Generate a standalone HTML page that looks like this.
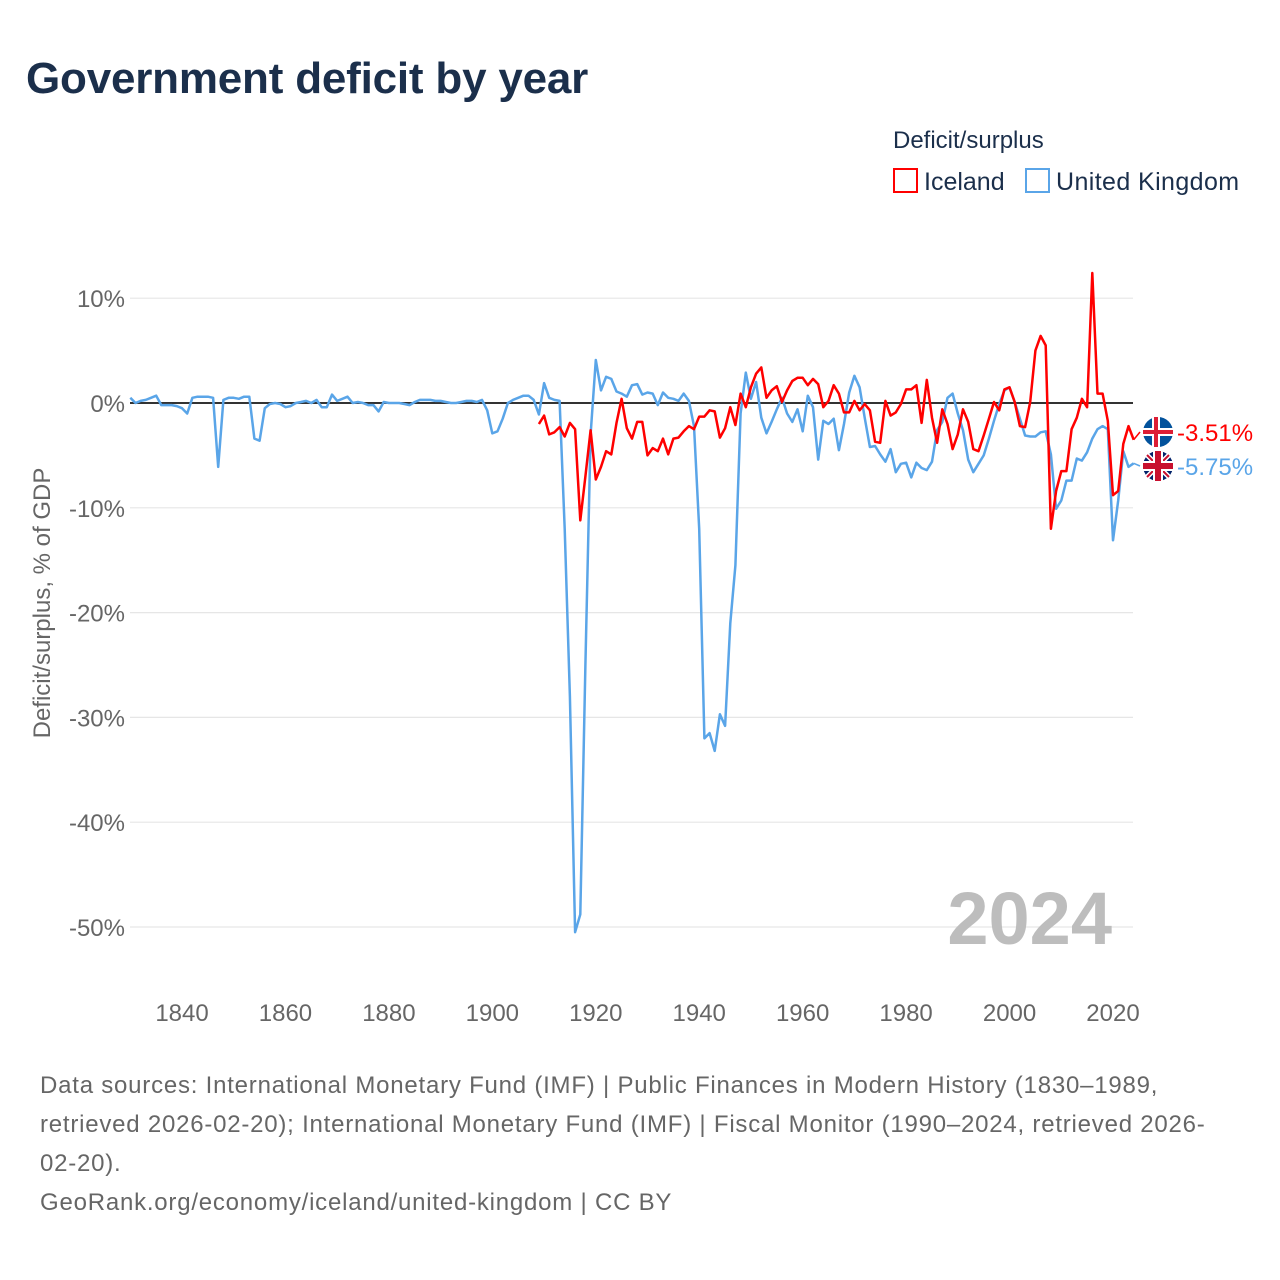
<!DOCTYPE html>
<html><head><meta charset="utf-8"><style>
body{margin:0;background:#fff;width:1280px;height:1280px;overflow:hidden;font-family:"Liberation Sans",sans-serif}
svg{display:block}
</style></head><body>
<svg id="chart" width="1280" height="1280" xmlns="http://www.w3.org/2000/svg" font-family="Liberation Sans, sans-serif">
<text x="26" y="93" font-size="44" font-weight="bold" fill="#1b2f4b" letter-spacing="-0.2">Government deficit by year</text>
<text x="893" y="148" font-size="24" fill="#1b2f4b">Deficit/surplus</text>
<g><rect x="894" y="169" width="23" height="23" fill="#fff" stroke="#f00" stroke-width="2"/><text x="924" y="190" font-size="25" fill="#1b2f4b">Iceland</text></g>
<g><rect x="1026" y="169" width="23" height="23" fill="#fff" stroke="#5aa5e8" stroke-width="2"/><text x="1056" y="190" font-size="25" fill="#1b2f4b" letter-spacing="0.4">United Kingdom</text></g>
<text transform="translate(50,603) rotate(-90)" text-anchor="middle" font-size="24" fill="#666">Deficit/surplus, % of GDP</text>
<g id="grid"></g><g id="yticks"></g><g id="xticks"></g>
<text x="1112" y="944" text-anchor="end" font-size="74" font-weight="bold" fill="#bdbdbd">2024</text>
<g id="series"></g><g id="endlabels"></g>
<g font-size="24" fill="#666" letter-spacing="0.78">
<text x="40" y="1093">Data sources: International Monetary Fund (IMF) | Public Finances in Modern History (1830–1989,</text>
<text x="40" y="1132">retrieved 2026-02-20); International Monetary Fund (IMF) | Fiscal Monitor (1990–2024, retrieved 2026-</text>
<text x="40" y="1171">02-20).</text>
<text x="40" y="1210">GeoRank.org/economy/iceland/united-kingdom | CC BY</text>
</g>
</svg>
<script>
const yTicks=[10,0,-10,-20,-30,-40,-50];
const xTicks=[1840,1860,1880,1900,1920,1940,1960,1980,2000,2020];
const ukStart=1830;
const ukValues=[0.5,0,0.2,0.3,0.5,0.7,-0.2,-0.2,-0.2,-0.3,-0.5,-1.0,0.5,0.6,0.6,0.6,0.5,-6.1,0.3,0.5,
0.5,0.4,0.6,0.6,-3.4,-3.6,-0.5,-0.1,0,-0.1,-0.4,-0.3,0,0.1,0.2,0,0.3,-0.4,-0.4,0.8,
0.2,0.4,0.6,0,0.1,0,-0.2,-0.2,-0.8,0.1,0,0,0,-0.1,-0.2,0.1,0.3,0.3,0.3,0.2,
0.2,0.1,0,0,0.1,0.2,0.2,0.1,0.3,-0.7,-2.9,-2.7,-1.5,0,0.3,0.5,0.7,0.7,0.3,-1.1,
1.9,0.5,0.3,0.2,-12,-28,-50.5,-48.8,-25,-3,4.1,1.2,2.5,2.3,1.1,0.9,0.6,1.7,1.8,0.8,
1.0,0.9,-0.2,1.0,0.5,0.4,0.2,0.9,0.2,-2.2,-12,-32,-31.5,-33.2,-29.7,-30.8,-21,-15.5,-1,2.9,
0.4,2.0,-1.4,-2.9,-1.8,-0.6,0.5,-1.0,-1.8,-0.6,-2.7,0.7,-0.4,-5.4,-1.7,-2.0,-1.5,-4.5,-2.0,1.0,
2.6,1.5,-1.4,-4.2,-4.1,-4.9,-5.6,-4.4,-6.6,-5.8,-5.7,-7.1,-5.7,-6.2,-6.4,-5.6,-2.6,-1.8,0.5,0.9,
-1.0,-2.6,-5.4,-6.6,-5.8,-5.0,-3.4,-1.7,-0.1,1.2,1.5,0.1,-1.5,-3.1,-3.2,-3.2,-2.8,-2.7,-4.9,-10.1,
-9.3,-7.4,-7.4,-5.3,-5.5,-4.7,-3.4,-2.5,-2.2,-2.5,-13.1,-9.3,-4.6,-6.1,-5.75];
const isStart=1909;
const isValues=[-2.0,-1.2,-3.0,-2.8,-2.3,-3.2,-1.9,-2.5,-11.2,-7.0,-2.6,-7.3,-6.1,-4.6,-4.9,-1.9,0.4,-2.4,-3.4,-1.8,
-1.8,-5.0,-4.3,-4.6,-3.4,-4.9,-3.4,-3.3,-2.7,-2.2,-2.5,-1.3,-1.3,-0.7,-0.8,-3.3,-2.4,-0.4,-2.1,0.9,
-0.4,1.5,2.8,3.4,0.5,1.2,1.6,0.1,1.2,2.1,2.4,2.4,1.7,2.3,1.8,-0.4,0.2,1.7,0.9,-0.9,
-0.9,0.2,-0.7,-0.1,-0.7,-3.7,-3.8,0.2,-1.2,-0.9,-0.1,1.3,1.3,1.7,-1.9,2.2,-1.4,-3.8,-0.6,-2.0,
-4.4,-3.0,-0.6,-1.8,-4.4,-4.6,-3.1,-1.5,0.1,-0.7,1.3,1.5,0.1,-2.2,-2.3,0.1,5.0,6.4,5.5,-12.0,
-8.4,-6.5,-6.5,-2.5,-1.4,0.4,-0.4,12.4,0.9,0.9,-1.7,-8.8,-8.4,-3.9,-2.2,-3.51];
const NS="http://www.w3.org/2000/svg";
const X0=130.3,Y0=403,PX_YR=5.172,PX_PCT=10.48;
function xs(yr){return X0+(yr-1830)*PX_YR;}
function ys(v){return Y0-v*PX_PCT;}
function mk(t,a,p){const e=document.createElementNS(NS,t);for(const k in a)e.setAttribute(k,a[k]);p.appendChild(e);return e;}
const grid=document.getElementById('grid'),yt=document.getElementById('yticks'),xt=document.getElementById('xticks');
yTicks.forEach(v=>{
 const l=mk('line',{x1:130,x2:1133,y1:ys(v),y2:ys(v),stroke:v===0?'#333':'#e6e6e6','stroke-width':v===0?2:1.2},grid);
 
 
 const t=mk('text',{x:125,y:ys(v)+9,'text-anchor':'end','font-size':24,fill:'#666'},yt);
 t.textContent=v+'%';
 
 
});
xTicks.forEach(yr=>{
 const t=mk('text',{x:xs(yr),y:1021,'text-anchor':'middle','font-size':24,fill:'#666'},xt);
 t.textContent=yr;
 
 
});
const ser=document.getElementById('series');
function line(start,vals,color,name){
 const d=vals.map((v,i)=>(i?'L':'M')+xs(start+i).toFixed(1)+','+ys(v).toFixed(1)).join(' ');
 const p=mk('path',{d:d,fill:'none',stroke:color,'stroke-width':2.5,'stroke-linejoin':'round'},ser);
 
 
}
line(ukStart,ukValues,'#5aa5e8','uk-line');
line(isStart,isValues,'#f00','iceland-line');
const el=document.getElementById('endlabels');
function endLabel(vals,start,color,ly,flag,name){
 const last=vals[vals.length-1],lx=xs(start+vals.length-1);
 mk('path',{d:`M${lx},${ys(last)} L1140,${ly}`,stroke:color,'stroke-width':1.5,fill:'none'},el);
 const g=mk('g',{},el);
 
 
 const cx=1158;
 if(flag==='is'){
  mk('circle',{cx:cx,cy:ly,r:15,fill:'#02529c'},g);
  mk('rect',{x:cx-15,y:ly-4,width:30,height:8,fill:'#fff'},g);
  mk('rect',{x:cx-6,y:ly-15,width:8,height:30,fill:'#fff'},g);
  mk('rect',{x:cx-15,y:ly-2,width:30,height:4,fill:'#dc1e35'},g);
  mk('rect',{x:cx-4,y:ly-15,width:4,height:30,fill:'#dc1e35'},g);
 }else{
  mk('circle',{cx:cx,cy:ly,r:15,fill:'#012169'},g);
  mk('path',{d:`M${cx-11},${ly-11}L${cx+11},${ly+11}M${cx+11},${ly-11}L${cx-11},${ly+11}`,stroke:'#fff','stroke-width':5},g);
  mk('path',{d:`M${cx-11},${ly-11}L${cx+11},${ly+11}M${cx+11},${ly-11}L${cx-11},${ly+11}`,stroke:'#c8102e','stroke-width':2},g);
  mk('rect',{x:cx-15,y:ly-5,width:30,height:10,fill:'#fff'},g);
  mk('rect',{x:cx-5,y:ly-15,width:10,height:30,fill:'#fff'},g);
  mk('rect',{x:cx-15,y:ly-3,width:30,height:6,fill:'#c8102e'},g);
  mk('rect',{x:cx-3,y:ly-15,width:6,height:30,fill:'#c8102e'},g);
 }
 const t=mk('text',{x:1177,y:ly+9,'font-size':24,fill:color},g);
 t.textContent=(last<0?'-':'')+Math.abs(last).toFixed(2)+'%';
}
endLabel(isValues,isStart,'#f00',432,'is','iceland-end-label');
endLabel(ukValues,ukStart,'#5aa5e8',466,'uk','uk-end-label');
</script>
</body></html>
